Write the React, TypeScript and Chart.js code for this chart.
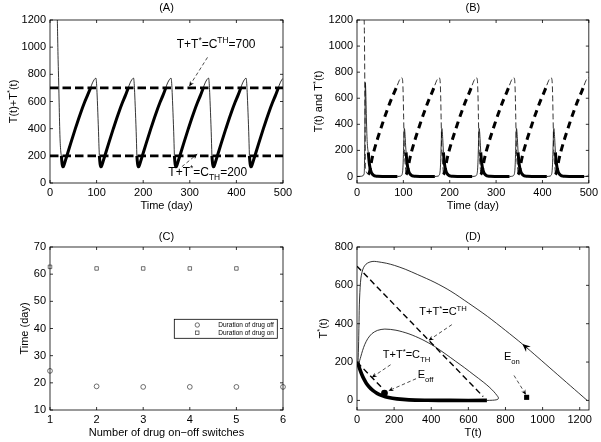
import React, { useEffect, useRef } from 'react';
import { Chart, registerables } from 'chart.js';

Chart.register(...registerables);

const FONT = '"Liberation Sans", Arial, Helvetica, sans-serif';
type P = [number, number];

// ---------------- Panel A : T(t)+T*(t) ----------------
const aXTicks = [0, 100, 200, 300, 400, 500];
const aYTicks = [0, 200, 400, 600, 800, 1000, 1200];
const aThresholdHigh: P[] = [[0, 700], [500, 700]];
const aThresholdLow: P[] = [[0, 200], [500, 200]];
// drug-off phases (thin line)
const aOffSegments: P[][] = [
  [[0, 1240], [10, 1238], [13, 1236], [14, 1233], [15, 1227], [15.7, 1200], [16.5, 1060], [17.2, 940], [18, 830], [18.8, 720], [19.6, 590], [20.5, 450], [21.5, 330], [22.5, 260], [23.5, 220], [24.4, 200]],
  [[87.1, 700], [89.1, 720], [91.1, 737], [93.1, 751], [95.1, 762], [97.1, 770], [98.4, 772], [99.1, 763], [100.1, 720], [101.1, 648], [102.1, 565], [103.1, 475], [104.1, 380], [104.9, 290], [105.9, 200]],
  [[167.9, 700], [169.9, 720], [171.9, 737], [173.9, 751], [175.9, 762], [177.9, 770], [179.2, 772], [179.9, 763], [180.9, 720], [181.9, 648], [182.9, 565], [183.9, 475], [184.9, 380], [185.7, 290], [186.4, 200]],
  [[248.4, 700], [250.4, 720], [252.4, 737], [254.4, 751], [256.4, 762], [258.4, 770], [259.7, 772], [260.4, 763], [261.4, 720], [262.4, 648], [263.4, 565], [264.4, 475], [265.4, 380], [266.2, 290], [266.9, 200]],
  [[328.9, 700], [330.9, 720], [332.9, 737], [334.9, 751], [336.9, 762], [338.9, 770], [340.2, 772], [340.9, 763], [341.9, 720], [342.9, 648], [343.9, 565], [344.9, 475], [345.9, 380], [346.7, 290], [347.4, 200]],
  [[409.4, 700], [411.4, 720], [413.4, 737], [415.4, 751], [417.4, 762], [419.4, 770], [420.7, 772], [421.4, 763], [422.4, 720], [423.4, 648], [424.4, 565], [425.4, 475], [426.4, 380], [427.2, 290], [427.9, 200]],
  [[489.9, 700], [491.9, 720], [493.9, 737], [495.9, 751], [497.9, 762], [500, 770]],
];
// drug-on phases (thick line)
const aOnSegments: P[][] = [
  [[24.4, 200], [25.4, 160], [26.4, 133], [27.4, 121], [28.4, 120], [30.4, 136], [32.4, 158], [36.4, 202], [44.4, 292], [54.4, 400], [64.4, 503], [74.4, 596], [80.4, 645], [87.1, 700]],
  [[105.9, 200], [106.9, 160], [107.9, 133], [108.9, 121], [109.9, 120], [111.9, 136], [113.9, 158], [117.9, 202], [125.9, 292], [135.9, 400], [145.9, 503], [155.9, 596], [161.9, 645], [167.9, 700]],
  [[186.4, 200], [187.4, 160], [188.4, 133], [189.4, 121], [190.4, 120], [192.4, 136], [194.4, 158], [198.4, 202], [206.4, 292], [216.4, 400], [226.4, 503], [236.4, 596], [242.4, 645], [248.4, 700]],
  [[266.9, 200], [267.9, 160], [268.9, 133], [269.9, 121], [270.9, 120], [272.9, 136], [274.9, 158], [278.9, 202], [286.9, 292], [296.9, 400], [306.9, 503], [316.9, 596], [322.9, 645], [328.9, 700]],
  [[347.4, 200], [348.4, 160], [349.4, 133], [350.4, 121], [351.4, 120], [353.4, 136], [355.4, 158], [359.4, 202], [367.4, 292], [377.4, 400], [387.4, 503], [397.4, 596], [403.4, 645], [409.4, 700]],
  [[427.9, 200], [428.9, 160], [429.9, 133], [430.9, 121], [431.9, 120], [433.9, 136], [435.9, 158], [439.9, 202], [447.9, 292], [457.9, 400], [467.9, 503], [477.9, 596], [483.9, 645], [489.9, 700]],
];

// ---------------- Panel B : T(t) and T*(t) ----------------
const bXTicks = [0, 100, 200, 300, 400, 500];
const bYTicks = [0, 200, 400, 600, 800, 1000, 1200];
const bTOff: P[][] = [
  [[0, 1240], [10, 1236], [13, 1230], [14, 1224], [15, 1210], [15.7, 1170], [16.1, 1050], [16.5, 880], [17, 620], [17.5, 360], [18, 110], [18.8, 55], [19.6, 40], [20.5, 32], [21.5, 26], [22.5, 21], [23.5, 18], [24.4, 15]],
  [[87.1, 700], [91.1, 736], [94.1, 753], [96.1, 758], [97.6, 751], [98.6, 726], [99.6, 630], [100.6, 454], [101.6, 271], [102.3, 179], [103.1, 130], [104.1, 90], [104.9, 55], [105.9, 15]],
  [[167.9, 700], [171.9, 736], [174.9, 753], [176.9, 758], [178.4, 751], [179.4, 726], [180.4, 630], [181.4, 454], [182.4, 271], [183.1, 179], [183.9, 130], [184.9, 90], [185.7, 55], [186.4, 15]],
  [[248.4, 700], [252.4, 736], [255.4, 753], [257.4, 758], [258.9, 751], [259.9, 726], [260.9, 630], [261.9, 454], [262.9, 271], [263.6, 179], [264.4, 130], [265.4, 90], [266.2, 55], [266.9, 15]],
  [[328.9, 700], [332.9, 736], [335.9, 753], [337.9, 758], [339.4, 751], [340.4, 726], [341.4, 630], [342.4, 454], [343.4, 271], [344.1, 179], [344.9, 130], [345.9, 90], [346.7, 55], [347.4, 15]],
  [[409.4, 700], [413.4, 736], [416.4, 753], [418.4, 758], [419.9, 751], [420.9, 726], [421.9, 630], [422.9, 454], [423.9, 271], [424.6, 179], [425.4, 130], [426.4, 90], [427.2, 55], [427.9, 15]],
  [[489.9, 700], [493.9, 736], [496.9, 753], [498.9, 758], [500, 756]],
];
const bTOn: P[][] = [
  [[24.4, 15], [25.4, 20], [26.4, 28], [27.4, 41], [28.4, 58], [30.4, 99], [32.4, 136], [36.4, 194], [44.4, 291], [54.4, 400], [64.4, 503], [74.4, 596], [80.4, 645], [87.1, 700]],
  [[105.9, 15], [106.9, 20], [107.9, 28], [108.9, 41], [109.9, 58], [111.9, 99], [113.9, 136], [117.9, 194], [125.9, 291], [135.9, 400], [145.9, 503], [155.9, 596], [161.9, 645], [167.9, 700]],
  [[186.4, 15], [187.4, 20], [188.4, 28], [189.4, 41], [190.4, 58], [192.4, 99], [194.4, 136], [198.4, 194], [206.4, 291], [216.4, 400], [226.4, 503], [236.4, 596], [242.4, 645], [248.4, 700]],
  [[266.9, 15], [267.9, 20], [268.9, 28], [269.9, 41], [270.9, 58], [272.9, 99], [274.9, 136], [278.9, 194], [286.9, 291], [296.9, 400], [306.9, 503], [316.9, 596], [322.9, 645], [328.9, 700]],
  [[347.4, 15], [348.4, 20], [349.4, 28], [350.4, 41], [351.4, 58], [353.4, 99], [355.4, 136], [359.4, 194], [367.4, 291], [377.4, 400], [387.4, 503], [397.4, 596], [403.4, 645], [409.4, 700]],
  [[427.9, 15], [428.9, 20], [429.9, 28], [430.9, 41], [431.9, 58], [433.9, 99], [435.9, 136], [439.9, 194], [447.9, 291], [457.9, 400], [467.9, 503], [477.9, 596], [483.9, 645], [489.9, 700]],
];
const bTsOff: P[][] = [
  [[0, 0], [10, 2], [13, 6], [14, 9], [15, 17], [15.7, 30], [16.1, 80], [16.5, 180], [17, 330], [17.5, 560], [18, 720], [18.8, 665], [19.6, 550], [20.5, 418], [21.5, 304], [22.5, 239], [23.5, 202], [24.4, 185]],
  [[87.1, 0], [91.1, 1], [94.1, 3], [96.1, 8], [97.6, 20], [98.6, 45], [99.6, 110], [100.6, 230], [101.6, 335], [102.3, 368], [103.1, 345], [104.1, 290], [104.9, 235], [105.9, 185]],
  [[167.9, 0], [171.9, 1], [174.9, 3], [176.9, 8], [178.4, 20], [179.4, 45], [180.4, 110], [181.4, 230], [182.4, 335], [183.1, 368], [183.9, 345], [184.9, 290], [185.7, 235], [186.4, 185]],
  [[248.4, 0], [252.4, 1], [255.4, 3], [257.4, 8], [258.9, 20], [259.9, 45], [260.9, 110], [261.9, 230], [262.9, 335], [263.6, 368], [264.4, 345], [265.4, 290], [266.2, 235], [266.9, 185]],
  [[328.9, 0], [332.9, 1], [335.9, 3], [337.9, 8], [339.4, 20], [340.4, 45], [341.4, 110], [342.4, 230], [343.4, 335], [344.1, 368], [344.9, 345], [345.9, 290], [346.7, 235], [347.4, 185]],
  [[409.4, 0], [413.4, 1], [416.4, 3], [418.4, 8], [419.9, 20], [420.9, 45], [421.9, 110], [422.9, 230], [423.9, 335], [424.6, 368], [425.4, 345], [426.4, 290], [427.2, 235], [427.9, 185]],
  [[489.9, 0], [493.9, 1], [496.9, 3], [498.9, 8], [500, 15]],
];
const bTsOn: P[][] = [
  [[24.4, 185], [25.4, 140], [26.4, 105], [27.4, 80], [28.4, 62], [30.4, 37], [32.4, 22], [36.4, 8], [40.4, 3], [44.4, 1], [54.4, 0], [87.1, 0]],
  [[105.9, 185], [106.9, 140], [107.9, 105], [108.9, 80], [109.9, 62], [111.9, 37], [113.9, 22], [117.9, 8], [121.9, 3], [125.9, 1], [135.9, 0], [167.9, 0]],
  [[186.4, 185], [187.4, 140], [188.4, 105], [189.4, 80], [190.4, 62], [192.4, 37], [194.4, 22], [198.4, 8], [202.4, 3], [206.4, 1], [216.4, 0], [248.4, 0]],
  [[266.9, 185], [267.9, 140], [268.9, 105], [269.9, 80], [270.9, 62], [272.9, 37], [274.9, 22], [278.9, 8], [282.9, 3], [286.9, 1], [296.9, 0], [328.9, 0]],
  [[347.4, 185], [348.4, 140], [349.4, 105], [350.4, 80], [351.4, 62], [353.4, 37], [355.4, 22], [359.4, 8], [363.4, 3], [367.4, 1], [377.4, 0], [409.4, 0]],
  [[427.9, 185], [428.9, 140], [429.9, 105], [430.9, 80], [431.9, 62], [433.9, 37], [435.9, 22], [439.9, 8], [443.9, 3], [447.9, 1], [457.9, 0], [489.9, 0]],
];

// ---------------- Panel C : durations ----------------
const cXTicks = [1, 2, 3, 4, 5, 6];
const cYTicks = [10, 20, 30, 40, 50, 60, 70];
const cOffSwitch = [1, 2, 3, 4, 5, 6];
const cOffDuration = [24.4, 18.7, 18.5, 18.5, 18.5, 18.5];
const cOnSwitch = [1, 2, 3, 4, 5];
const cOnDuration = [62.7, 62.1, 62.1, 62.1, 62.1];
const cLegendLabels = ['Duration of drug off', 'Duration of drug on'];

// ---------------- Panel D : phase plane ----------------
const dXTicks = [0, 200, 400, 600, 800, 1000, 1200];
const dYTicks = [0, 200, 400, 600, 800];
const dOuter: P[] = [[1240, 0], [1150, 76], [1060, 152], [975, 224], [891, 294], [800, 365], [703, 438], [600, 508], [506, 569], [420, 615], [327, 656], [260, 684], [202, 704], [160, 715], [131, 720], [105, 724], [86, 725], [65, 720], [48, 710], [35, 692], [27, 668], [21, 638], [17, 590], [14, 534], [12, 470], [11, 412], [9.5, 340], [8, 273], [6.5, 225], [5, 195]];
const dInner: P[] = [[700, 0], [730, 1], [750, 3], [760, 7], [762, 14], [754, 26], [738, 45], [712, 70], [680, 96], [630, 133], [580, 170], [530, 205], [480, 240], [417, 282], [350, 318], [280, 347], [210, 366], [150, 372], [110, 365], [80, 348], [58, 322], [42, 292], [30, 260], [21, 230], [14, 207], [8, 194]];
const dOnCurve: P[] = [[5, 195], [10, 178], [17, 158], [26, 135], [37, 112], [50, 90], [66, 70], [85, 52], [108, 37], [135, 25], [170, 15], [215, 8], [280, 3], [380, 1], [500, 0], [700, 0]];
const dLineHigh: P[] = [[0, 700], [680, 20]];
const dLineLow: P[] = [[0, 200], [140, 60]];
const dEoff: P[] = [[148, 38]];
const dEon: P[] = [[914, 16]];

// ---------------- annotations ----------------
interface Note { text: string; at: P; from: P; to: P }
const aNotes: Note[] = [
  { text: 'T+T^{*}=C^{TH}=700', at: [272, 1028], from: [338, 925], to: [299, 713] },
  { text: 'T+T^{*}=C_{TH}=200', at: [254, 83], from: [283, 120], to: [316, 213] },
];
const dNotes: Note[] = [
  { text: 'T+T^{*}=C^{TH}', at: [336, 464], from: [511, 395], to: [386, 313] },
  { text: 'T+T^{*}=C_{TH}', at: [139, 240], from: [181, 186], to: [80, 120] },
  { text: 'E_{off}', at: [327, 137], from: [318, 113], to: [170, 50] },
  { text: 'E_{on}', at: [792, 230], from: [846, 130], to: [910, 30] },
];
const dFlowArrow = { at: [891, 294] as P, from: [975, 224] as P };

// ---------------- helpers ----------------
function parseRich(s: string) {
  const parts: { t: string; m: number }[] = [];
  let buf = '';
  let i = 0;
  while (i < s.length) {
    const c = s[i];
    if ((c === '^' || c === '_') && s[i + 1] === '{') {
      if (buf) { parts.push({ t: buf, m: 0 }); buf = ''; }
      const j = s.indexOf('}', i);
      parts.push({ t: s.slice(i + 2, j), m: c === '^' ? 1 : -1 });
      i = j + 1;
    } else { buf += c; i++; }
  }
  if (buf) parts.push({ t: buf, m: 0 });
  return parts;
}

function drawRich(ctx: CanvasRenderingContext2D, s: string, x: number, y: number, size: number, align: 'left' | 'center', rot = 0) {
  const parts = parseRich(s);
  const small = size * 0.7;
  ctx.save();
  ctx.translate(x, y);
  ctx.rotate(rot);
  ctx.fillStyle = '#000';
  ctx.textAlign = 'left';
  ctx.textBaseline = 'alphabetic';
  const widths = parts.map((p) => { ctx.font = `${p.m ? small : size}px ${FONT}`; return ctx.measureText(p.t).width; });
  const total = widths.reduce((a, b) => a + b, 0);
  let cx = align === 'center' ? -total / 2 : 0;
  const base = size * 0.36;
  parts.forEach((p, k) => {
    ctx.font = `${p.m ? small : size}px ${FONT}`;
    const dy = p.m === 1 ? -size * 0.42 : p.m === -1 ? size * 0.32 : 0;
    ctx.fillText(p.t, cx, base + dy);
    cx += widths[k];
  });
  ctx.restore();
}

function arrowHead(ctx: CanvasRenderingContext2D, x1: number, y1: number, x2: number, y2: number, len: number, half: number) {
  const a = Math.atan2(y2 - y1, x2 - x1);
  const c = Math.cos(a), s = Math.sin(a);
  ctx.beginPath();
  ctx.moveTo(x2, y2);
  ctx.lineTo(x2 - len * c + half * s, y2 - len * s - half * c);
  ctx.lineTo(x2 - len * 0.65 * c, y2 - len * 0.65 * s);
  ctx.lineTo(x2 - len * c - half * s, y2 - len * s + half * c);
  ctx.closePath();
  ctx.fill();
}

interface FrameCfg {
  xTicks: number[]; yTicks: number[];
  title: string; titleY: number;
  xLabel: string; yLabel: string; yLabelDx: number;
  notes?: Note[]; noteSize?: number;
  legend?: boolean;
  flow?: { at: P; from: P };
}

function framePlugin(cfg: FrameCfg) {
  return {
    id: 'matlabFrame',
    afterDraw(chart: any) {
      const { ctx, chartArea: ca, scales } = chart;
      const xs = scales.x, ys = scales.y;
      const px = (p: P) => [xs.getPixelForValue(p[0]), ys.getPixelForValue(p[1])];
      ctx.save();
      ctx.strokeStyle = '#000';
      ctx.fillStyle = '#000';
      ctx.lineWidth = 0.8;
      ctx.setLineDash([]);
      ctx.strokeRect(ca.left, ca.top, ca.right - ca.left, ca.bottom - ca.top);
      const L = 3;
      ctx.beginPath();
      cfg.xTicks.forEach((v) => {
        const p = xs.getPixelForValue(v);
        ctx.moveTo(p, ca.bottom); ctx.lineTo(p, ca.bottom - L);
        ctx.moveTo(p, ca.top); ctx.lineTo(p, ca.top + L);
      });
      cfg.yTicks.forEach((v) => {
        const p = ys.getPixelForValue(v);
        ctx.moveTo(ca.left, p); ctx.lineTo(ca.left + L, p);
        ctx.moveTo(ca.right, p); ctx.lineTo(ca.right - L, p);
      });
      ctx.stroke();
      const cxm = (ca.left + ca.right) / 2;
      drawRich(ctx, cfg.title, cxm, cfg.titleY, 11, 'center');
      drawRich(ctx, cfg.xLabel, cxm, ca.bottom + 22, 11, 'center');
      drawRich(ctx, cfg.yLabel, ca.left - cfg.yLabelDx, (ca.top + ca.bottom) / 2, 11, 'center', -Math.PI / 2);
      (cfg.notes || []).forEach((n) => {
        const [tx, ty] = px(n.at);
        drawRich(ctx, n.text, tx, ty, cfg.noteSize || 11, 'left');
        const [x1, y1] = px(n.from);
        const [x2, y2] = px(n.to);
        ctx.lineWidth = 0.7;
        ctx.setLineDash([3.5, 2.5]);
        ctx.beginPath(); ctx.moveTo(x1, y1); ctx.lineTo(x2, y2); ctx.stroke();
        ctx.setLineDash([]);
        arrowHead(ctx, x1, y1, x2, y2, 5, 2.3);
      });
      if (cfg.flow) {
        const [x1, y1] = px(cfg.flow.from);
        const [x2, y2] = px(cfg.flow.at);
        arrowHead(ctx, x1, y1, x2, y2, 8, 3.6);
      }
      if (cfg.legend) {
        const lx = ca.right - 108.7, ly = ca.top + 72.3;
        ctx.fillStyle = '#fff';
        ctx.fillRect(lx, ly, 103, 19);
        ctx.strokeStyle = '#000';
        ctx.lineWidth = 0.8;
        ctx.strokeRect(lx, ly, 103, 19);
        const mx = lx + 23;
        ctx.strokeStyle = '#333';
        ctx.lineWidth = 0.7;
        ctx.beginPath(); ctx.arc(mx, ly + 5.7, 2.2, 0, Math.PI * 2); ctx.stroke();
        ctx.strokeRect(mx - 1.7, ly + 13.4 - 1.7, 3.4, 3.4);
        ctx.fillStyle = '#000';
        ctx.font = `6.5px ${FONT}`;
        ctx.textBaseline = 'middle';
        ctx.textAlign = 'left';
        ctx.fillText(cLegendLabels[0], lx + 44, ly + 5.9);
        ctx.fillText(cLegendLabels[1], lx + 44, ly + 13.6);
      }
      ctx.restore();
    },
  };
}

function xy(seg: P[]) { return seg.map(([x, y]) => ({ x, y })); }

function curve(seg: P[], width: number, dash: number[] = [], mono = true) {
  return {
    data: xy(seg),
    borderColor: '#000',
    backgroundColor: '#000',
    borderWidth: width,
    borderDash: dash,
    pointRadius: 0,
    fill: false,
    tension: mono ? 0 : 0.3,
    cubicInterpolationMode: mono ? 'monotone' : 'default',
    borderJoinStyle: 'round',
    borderCapStyle: 'butt',
  };
}

interface AxisCfg {
  xMin: number; xMax: number; yMin: number; yMax: number;
  xTicks: number[]; yTicks: number[];
  padTop: number; padRight: number; yW: number; xH: number;
}

function buildConfig(datasets: any[], ax: AxisCfg, frame: FrameCfg): any {
  const tickFont = { family: FONT, size: 11 };
  return {
    type: 'line',
    data: { datasets },
    options: {
      animation: false,
      responsive: false,
      maintainAspectRatio: false,
      devicePixelRatio: 1,
      events: [],
      layout: { padding: { top: ax.padTop, right: ax.padRight, left: 0, bottom: 0 } },
      plugins: { legend: { display: false }, tooltip: { enabled: false }, title: { display: false } },
      scales: {
        x: {
          type: 'linear', position: 'bottom', min: ax.xMin, max: ax.xMax,
          grid: { display: false, drawTicks: false }, border: { display: false },
          ticks: { color: '#000', font: tickFont, padding: 3, autoSkip: false, maxRotation: 0, callback: (v: number) => String(v) },
          afterBuildTicks: (s: any) => { s.ticks = ax.xTicks.map((value) => ({ value })); },
          afterFit: (s: any) => { s.height = ax.xH; },
        },
        y: {
          type: 'linear', position: 'left', min: ax.yMin, max: ax.yMax,
          grid: { display: false, drawTicks: false }, border: { display: false },
          ticks: { color: '#000', font: tickFont, padding: 4, autoSkip: false, callback: (v: number) => String(v) },
          afterBuildTicks: (s: any) => { s.ticks = ax.yTicks.map((value) => ({ value })); },
          afterFit: (s: any) => { s.width = ax.yW; },
        },
      },
    },
    plugins: [framePlugin(frame)],
  };
}

function buildA() {
  const ds = [
    curve(aThresholdHigh, 2.8, [8.5, 4]),
    curve(aThresholdLow, 2.8, [8.5, 4]),
    ...aOffSegments.map((s) => curve(s, 0.8)),
    ...aOnSegments.map((s) => curve(s, 3)),
  ];
  return buildConfig(ds,
    { xMin: 0, xMax: 500, yMin: 0, yMax: 1200, xTicks: aXTicks, yTicks: aYTicks, padTop: 20, padRight: 17, yW: 50, xH: 38 },
    { xTicks: aXTicks, yTicks: aYTicks, title: '(A)', titleY: 7.5, xLabel: 'Time (day)', yLabel: 'T(t)+T^{*}(t)', yLabelDx: 37, notes: aNotes, noteSize: 12 });
}

function buildB() {
  const ds = [
    ...bTOff.map((s) => curve(s, 0.8, [6, 3])),
    ...bTOn.map((s) => curve(s, 3, [7, 5])),
    ...bTsOff.map((s) => curve(s, 0.8)),
    ...bTsOn.map((s) => curve(s, 3)),
  ];
  return buildConfig(ds,
    { xMin: 0, xMax: 500, yMin: -50, yMax: 1200, xTicks: bXTicks, yTicks: bYTicks, padTop: 20, padRight: 12, yW: 57, xH: 38 },
    { xTicks: bXTicks, yTicks: bYTicks, title: '(B)', titleY: 7.5, xLabel: 'Time (day)', yLabel: 'T(t) and T^{*}(t)', yLabelDx: 38.7 });
}

function buildC() {
  const ds = [
    {
      data: cOffSwitch.map((x, i) => ({ x, y: cOffDuration[i] })),
      showLine: false, pointStyle: 'circle', pointRadius: 2.4, pointBorderWidth: 0.7,
      pointBorderColor: '#333', pointBackgroundColor: 'rgba(0,0,0,0)', clip: false,
    },
    {
      data: cOnSwitch.map((x, i) => ({ x, y: cOnDuration[i] })),
      showLine: false, pointStyle: 'rect', pointRadius: 2.5, pointBorderWidth: 0.7,
      pointBorderColor: '#333', pointBackgroundColor: 'rgba(0,0,0,0)', clip: false,
    },
  ];
  return buildConfig(ds,
    { xMin: 1, xMax: 6, yMin: 10, yMax: 70, xTicks: cXTicks, yTicks: cYTicks, padTop: 26, padRight: 17, yW: 50, xH: 32 },
    { xTicks: cXTicks, yTicks: cYTicks, title: '(C)', titleY: 15, xLabel: 'Number of drug on\u2212off switches', yLabel: 'Time (day)', yLabelDx: 26, legend: true });
}

function buildD() {
  const ds = [
    curve(dLineHigh, 1.4, [6, 3.5]),
    curve(dLineLow, 1.4, [6, 3.5]),
    curve(dOuter, 0.8, [], false),
    curve(dInner, 0.8, [], false),
    curve(dOnCurve, 3.6, [], false),
    { data: xy(dEoff), showLine: false, pointStyle: 'circle', pointRadius: 3.4, pointBorderWidth: 0, pointBackgroundColor: '#000', clip: false },
    { data: xy(dEon), showLine: false, pointStyle: 'rect', pointRadius: 3.6, pointBorderWidth: 0, pointBackgroundColor: '#000', clip: false },
  ];
  return buildConfig(ds,
    { xMin: 0, xMax: 1250, yMin: -50, yMax: 800, xTicks: dXTicks, yTicks: dYTicks, padTop: 26, padRight: 12, yW: 57, xH: 32 },
    { xTicks: dXTicks, yTicks: dYTicks, title: '(D)', titleY: 15, xLabel: 'T(t)', yLabel: 'T^{*}(t)', yLabelDx: 34, notes: dNotes, noteSize: 11, flow: dFlowArrow });
}

function Panel({ left, top, width, height, build }: { left: number; top: number; width: number; height: number; build: () => any }) {
  const ref = useRef<HTMLCanvasElement>(null);
  useEffect(() => {
    if (!ref.current) return;
    const chart = new Chart(ref.current, build());
    return () => chart.destroy();
  }, [build]);
  return <canvas ref={ref} width={width} height={height} style={{ position: 'absolute', left, top, width, height }} />;
}

export default function App() {
  return (
    <div style={{ position: 'absolute', left: 0, top: 0, width: 601, height: 442, background: '#fff', overflow: 'hidden' }}>
      <Panel left={0} top={0} width={300} height={221} build={buildA} />
      <Panel left={300} top={0} width={301} height={221} build={buildB} />
      <Panel left={0} top={221} width={300} height={221} build={buildC} />
      <Panel left={300} top={221} width={301} height={221} build={buildD} />
    </div>
  );
}
